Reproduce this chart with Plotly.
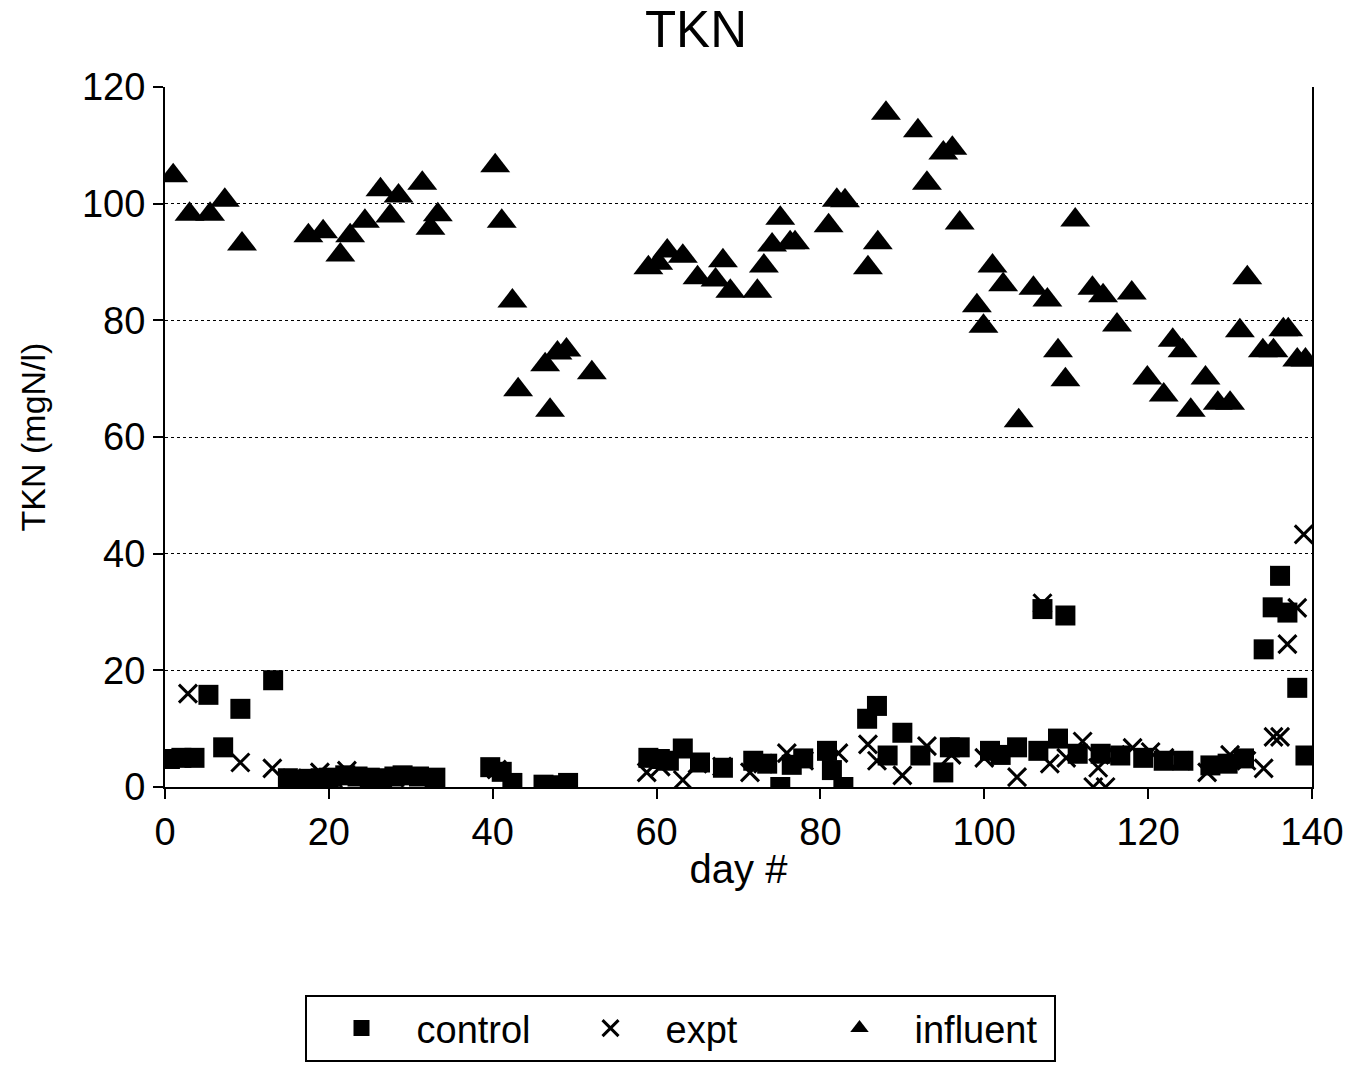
import plotly.graph_objects as go

# influent
inf_day = [1, 3, 5.5, 7.3, 9.4, 17.5, 19.3, 21.4, 22.6, 24.4, 26.3, 27.5, 28.5, 31.4, 32.4, 33.3,
           40.3, 41.1, 42.4, 43.1, 46.4, 47, 47.9, 49, 52.1,
           59, 60.2, 61.3, 63.2, 65, 67.2, 68.1, 69, 72.3, 73.1, 74.1, 75.1, 76.3, 76.9,
           81, 82, 83, 85.8, 87, 88, 91.9, 93, 95, 96.1, 97,
           99.1, 99.9, 101, 102.3, 104.2, 106, 107.7, 109, 109.9, 111.1, 113.2, 114.5, 116.2, 118,
           119.9, 121.9, 123, 124.2, 125.2, 127, 128.5, 130, 131.2, 132.1, 134, 135.3, 136.5, 137.1,
           138.2, 139.2]
inf_val = [104.8, 98.2, 98.2, 100.6, 93.1, 94.5, 95.2, 91.2, 94.5, 97.0, 102.4, 97.9, 101.3, 103.5, 95.8, 98.1,
           106.5, 97.0, 83.3, 68.1, 72.4, 64.6, 74.4, 74.9, 71.0,
           89.0, 89.8, 91.9, 91.0, 87.3, 86.9, 90.2, 85.0, 85.0, 89.3, 92.9, 97.5, 93.3, 93.3,
           96.2, 100.6, 100.5, 89.0, 93.3, 115.5, 112.5, 103.5, 108.7, 109.5, 96.7,
           82.5, 79.0, 89.3, 86.1, 62.8, 85.5, 83.5, 74.8, 69.8, 97.2, 85.5, 84.2, 79.2, 84.7,
           70.1, 67.2, 76.6, 74.8, 64.6, 70.1, 65.8, 65.8, 78.2, 87.3, 74.8, 74.8, 78.4, 78.4,
           73.2, 73.2]

# control
ctl_day = [0.6, 2, 3.6, 5.3, 7.1, 9.2, 13.2, 15, 16, 17.5, 19, 20, 22, 23.5, 25, 26.5, 28, 29, 31, 33,
           39.7, 41.1, 42.4, 46.2, 48.2, 49.2,
           59, 60.4, 61.5, 63.2, 65.3, 68.1, 71.8, 73.5, 75.1, 76.5, 77.9, 80.8, 81.4, 82.8,
           85.7, 86.9, 88.2, 90, 92.2, 95, 95.8, 97, 100.7, 102, 104, 106.6, 107.1, 109, 109.9, 111.4,
           114.2, 116.6, 119.4, 121.9, 124.3, 127.6, 129.7, 131.7, 134.1, 135.2, 136.1, 137, 138.2, 139.2]
ctl_val = [4.8, 5.0, 5.0, 15.8, 6.8, 13.4, 18.3, 1.5, 1.2, 1.4, 1.5, 1.6, 2.0, 1.8, 1.6, 1.5, 1.8, 2.0, 1.8, 1.6,
           3.4, 2.6, 0.7, 0.4, 0.3, 0.7,
           5.0, 4.8, 4.5, 6.6, 4.2, 3.3, 4.5, 4.0, 0.0, 3.8, 4.9, 6.2, 2.9, 0.0,
           11.7, 13.9, 5.4, 9.3, 5.4, 2.5, 6.8, 6.8, 6.2, 5.5, 6.8, 6.2, 30.5, 8.3, 29.4, 5.7,
           5.7, 5.4, 5.0, 4.5, 4.5, 3.7, 4.0, 4.9, 23.6, 30.8, 36.2, 29.9, 17.0, 5.4]

# expt
exp_day = [2.8, 9.2, 13.1, 15.5, 17, 18.9, 20.5, 22.2, 25, 28, 32.6, 40.5,
           58.8, 60.5, 63.2, 65, 68, 71.4, 73, 75.9, 78, 82.2, 85.8, 86.9, 90, 93, 96,
           100, 104, 107.1, 108, 110, 112, 113.3, 113.9, 114.8, 116, 118.1, 120.3, 122, 124, 127.2,
           130, 132, 134.1, 135.3, 136.1, 137, 138.2, 139]
exp_val = [16.0, 4.2, 3.2, 1.5, 1.2, 2.5, 1.5, 2.8, 1.5, 1.6, 1.0, 3.0,
           2.5, 3.5, 1.2, 4.0, 3.5, 2.5, 4.0, 5.8, 4.5, 5.8, 7.3, 4.5, 2.0, 7.0, 5.5,
           5.0, 1.7, 31.5, 4.0, 5.0, 7.8, 0.0, 3.3, 0.0, 5.5, 6.7, 6.0, 5.0, 4.5, 2.5,
           5.5, 4.5, 3.2, 8.6, 8.6, 24.5, 30.7, 43.3]

x_ticks = [0, 20, 40, 60, 80, 100, 120, 140]
y_ticks = [0, 20, 40, 60, 80, 100, 120]

FONT = "Liberation Sans, Arial, sans-serif"

fig = go.Figure()
fig.add_trace(go.Scatter(x=ctl_day, y=ctl_val, mode="markers", name="control",
                         marker=dict(symbol="square", size=20, color="black")))
fig.add_trace(go.Scatter(x=exp_day, y=exp_val, mode="markers", name="expt",
                         marker=dict(symbol="x-thin", size=18, color="black",
                                     line=dict(width=3, color="black"))))
fig.add_trace(go.Scatter(x=inf_day, y=inf_val, mode="markers", name="influent",
                         marker=dict(symbol="triangle-up", size=26, color="black")))

fig.update_layout(
    width=1362, height=1075,
    margin=dict(l=165, r=50, t=87, b=288),
    paper_bgcolor="white", plot_bgcolor="white",
    font=dict(family=FONT, color="black", size=38),
    title=dict(text="TKN", x=0.511, xanchor="center", y=0.973, yanchor="middle",
               font=dict(size=51, family=FONT, color="black")),
    showlegend=True,
    legend=dict(orientation="h", x=0.449, xanchor="center", y=-0.297, yanchor="top",
                bordercolor="black", borderwidth=2, font=dict(size=38, family=FONT),
                itemsizing="trace", itemwidth=100,
                entrywidth=134, entrywidthmode="pixels"),
    xaxis=dict(range=[0, 140], tickvals=x_ticks,
               showline=True, linecolor="black", linewidth=2, mirror=False,
               ticks="outside", ticklen=10, tickwidth=2, tickcolor="black",
               tickfont=dict(size=38),
               showgrid=False, zeroline=False,
               title=dict(text="day #", standoff=3, font=dict(size=40, family=FONT))),
    yaxis=dict(range=[0, 120], tickvals=y_ticks,
               showline=True, linecolor="black", linewidth=2, mirror=True,
               ticks="outside", ticklen=10, tickwidth=2, tickcolor="black",
               tickfont=dict(size=38),
               showgrid=True, gridcolor="black", gridwidth=1, griddash="dot",
               zeroline=False,
               title=dict(text="TKN (mgN/l)", standoff=26, font=dict(size=34, family=FONT))),
)

fig.write_html("out.html")
